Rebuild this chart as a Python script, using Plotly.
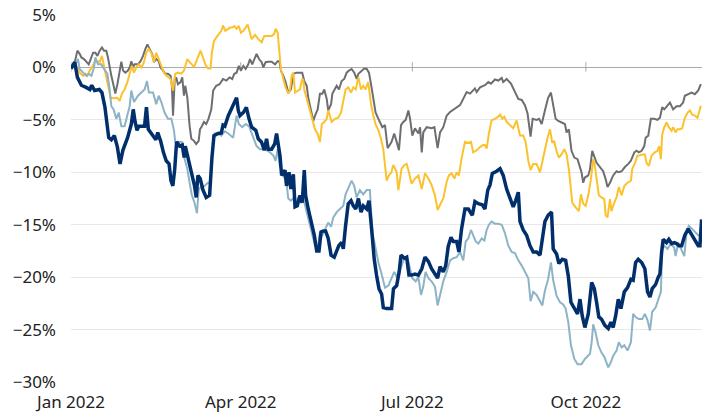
import pandas as pd
import plotly.graph_objects as go

# day offsets from 1 Jan 2022 and cumulative return (%)
navy_day = [0, 2, 3.4, 5.5, 8, 10, 11, 12.5, 15, 16.4, 18, 19, 20, 21.4, 23, 24.6, 26, 27.5, 30, 32,
            33, 34, 35, 36, 39, 40, 41, 43, 45, 46, 47.5, 49, 50.5, 52, 53, 54, 55, 56, 57.6, 59,
            60, 60.6, 62.4, 64, 65.5, 66.4, 67.3, 68.5, 70, 71.7, 73.5, 74.7, 75.8, 78, 79.7, 80.6, 81.6, 83.4, 85, 87,
            87.8, 88.7, 89.6, 91.4, 93, 94.4, 95.8, 98, 99.3, 101, 102.5, 103.7, 104.6, 106.4, 108, 109, 110, 110.8, 111.7, 113.5,
            114.3, 115.6, 116.6, 117.9, 118.8, 120, 121.4, 122.6, 123.7, 124.4, 125.8, 127.6, 129, 130.3, 131.5, 132.6, 133.8, 135, 136.4, 137.9,
            139.6, 140.9, 142, 143.5, 144.4, 145.6, 147, 148.5, 149.7, 151, 152.4, 153.8, 155, 156.8, 158, 159.4, 160.8, 162, 163.3, 164.7,
            165.6, 167.4, 170, 171, 172.7, 174, 175, 176.8, 178, 179.2, 180.6, 182.4, 184.2, 186, 187.7, 189.5, 191.2, 193, 194.4, 195.7,
            197.4, 198.7, 200, 201.5, 202.7, 204.5, 205.7, 207.1, 208.9, 210.7, 212.8, 214.2, 216, 218.1, 219.5, 221, 222.2, 223.4, 225.7, 227.5,
            229.2, 231, 232.8, 234.5, 235.8, 237.2, 238.1, 239.8, 241.6, 243.4, 245.1, 246.9, 248.7, 249.6, 251.3, 253, 254.8, 255.7, 257.5, 258.7,
            260.5, 262.3, 263.7, 265.1, 266.9, 268.6, 269.9, 271.1, 272.5, 274.3, 276.1, 277.5, 278.7, 279.9, 281.3, 283.1, 284.9, 286.3, 287.5, 288.8,
            290.2, 291.6, 293.4, 295.1, 296.9, 298.1, 299.4, 300.8, 302.6, 304.3, 305.7, 307, 308.2, 310, 311.4, 312.3, 313.2, 314, 315.8, 317,
            318.5, 319.9, 321.1, 322.4, 323.8, 325.5, 327.3, 329.1, 330.8, 332.6, 333.5, 334.4]
navy_pct = [-0.1, 0.5, -0.95, -1.7, -1.9, -2.1, -1.7, -2.2, -2.1, -2.4, -3.8, -5.1, -6.7, -6.9, -6.5, -7.6, -9.2, -7.9, -6.7, -5.4,
            -4.0, -5.2, -6.0, -5.6, -5.6, -3.8, -5.9, -6.4, -6.9, -6.2, -7.0, -8.1, -8.9, -9.2, -10.8, -11.3, -9.7, -7.1, -7.5, -7.4,
            -8.6, -7.5, -8.9, -10.2, -11.3, -12.4, -10.3, -10.6, -11.7, -12.4, -12.2, -8.7, -6.5, -6.3, -6.25, -5.5, -5.6, -4.6, -4.0, -3.3,
            -2.9, -4.1, -4.6, -4.3, -3.8, -4.9, -5.7, -6.0, -6.8, -7.1, -7.9, -6.8, -7.8, -7.8, -7.3, -6.3, -7.3, -8.4, -10.3, -9.8,
            -11.3, -10.0, -11.6, -10.2, -13.3, -13.2, -12.2, -12.9, -9.8, -12.2, -13.5, -14.8, -16.0, -17.5, -17.5, -15.7, -15.6, -15.6, -16.3, -17.9,
            -18.1, -17.5, -17.0, -16.7, -17.3, -15.1, -13.0, -12.7, -13.2, -13.5, -12.5, -13.8, -13.2, -13.5, -12.7, -15.4, -18.3, -19.8, -21.1, -21.6,
            -22.9, -23.0, -23.0, -21.1, -20.8, -19.5, -17.9, -18.2, -18.1, -19.8, -19.8, -19.7, -19.8, -19.2, -18.1, -18.5, -19.2, -19.7, -20.1, -19.0,
            -19.5, -18.9, -17.1, -16.2, -16.6, -16.6, -17.6, -15.4, -13.5, -13.5, -14.1, -12.8, -13.0, -13.1, -13.5, -11.7, -11.2, -10.1, -9.9, -9.65,
            -10.3, -11.6, -12.5, -13.3, -12.7, -11.9, -14.7, -15.5, -16.0, -17.0, -17.6, -17.6, -17.9, -16.6, -14.7, -14.1, -13.8, -17.3, -17.8, -18.7,
            -18.3, -18.4, -19.9, -22.4, -23.0, -23.5, -22.1, -23.7, -24.8, -23.5, -20.5, -21.1, -22.4, -23.8, -24.0, -24.6, -24.9, -24.3, -24.8, -23.7,
            -22.1, -23.0, -21.4, -21.0, -20.2, -20.3, -18.6, -18.3, -18.6, -19.2, -21.4, -21.9, -21.1, -20.7, -20.0, -19.7, -17.6, -16.4, -16.7, -16.4,
            -16.8, -16.7, -16.8, -17.0, -17.0, -16.0, -15.4, -15.9, -16.5, -17.0, -17.0, -14.5]

light_day = [0, 2, 3.7, 4.6, 6.4, 8.1, 9.4, 10.8, 12.2, 12.9, 14.3, 16, 17.5, 19.3, 20.5, 21.4, 22.6, 24, 25.3, 26.7,
             28.4, 29.9, 31.1, 32, 33.4, 35.5, 37.3, 39, 40.3, 41.3, 43.5, 45.2, 46.5, 47.9, 49.6, 51.4, 53.2, 54.6, 55.3, 57,
             58.8, 60.2, 61.7, 62.9, 64.1, 65.5, 66.8, 67.7, 69.1, 70.8, 72.6, 74, 74.7, 76.2, 77.9, 79.7, 81.5, 83.4, 86, 87.8,
             89, 90.8, 92.6, 94.4, 96.7, 98.4, 100.2, 102, 103.7, 105.5, 107.3, 108.5, 109.6, 110.8, 112.6, 114.3, 115.2, 116.6, 117.9, 119.1,
             120.5, 121.9, 123.2, 125, 126.7, 128, 129.4, 130.8, 132, 133.3, 134.7, 136.4, 137.9, 139.1, 140.9, 142.6, 144.4, 145.6, 147, 148.8,
             150.2, 151.5, 153.2, 155, 156.8, 158.5, 159.8, 161.2, 163, 164.7, 166.5, 168.3, 170, 171.4, 173.2, 175, 176.8, 178.5, 179.8, 181,
             182.8, 184.2, 185.6, 186.8, 188, 189.5, 191.2, 193, 194.4, 195.7, 197.4, 199.2, 201, 202.7, 204.5, 206.3, 208, 209.3, 210.7, 212.1,
             213.3, 214.6, 216, 217.8, 219.2, 220.4, 221.6, 223, 224.8, 226.6, 228.4, 230.1, 231.9, 233.7, 235.4, 237.2, 239, 240.7, 242.5, 243.7,
             245.1, 246.9, 248.7, 249.9, 251.3, 253, 254.5, 255.7, 257.5, 259.3, 261, 262.3, 263.7, 265.1, 266.9, 268.6, 270.7, 272.5, 275.2, 276.1,
             276.9, 278.2, 279.6, 281.3, 282.8, 284, 284.9, 286.3, 287.5, 289.3, 290.5, 292, 293.4, 295.1, 296.9, 298.1, 299.4, 301.1, 302.9, 304.3,
             305.7, 307, 308.2, 310, 311.4, 312.8, 313.5, 314.6, 316.3, 318.1, 319.9, 320.6, 322, 323.8, 325.2, 326.4, 327.6, 329.4, 331.2, 332.6,
             334]
light_pct = [-0.15, 0.2, 0.8, -0.15, -0.5, -0.8, -0.6, -0.8, 0.0, 0.95, 0.3, 0.3, -0.15, -0.6, -2.1, -3.7, -4.0, -4.9, -4.3, -5.6,
             -5.6, -4.6, -3.7, -2.2, -3.3, -2.7, -2.4, -2.1, -1.3, -2.4, -2.4, -3.5, -2.7, -3.3, -4.3, -4.9, -4.9, -6.0, -7.1, -7.1,
             -7.1, -8.7, -9.7, -11.0, -12.2, -12.9, -13.9, -11.7, -11.3, -11.3, -11.0, -11.0, -8.4, -6.3, -6.3, -6.5, -6.1, -6.3, -6.7, -4.6,
             -5.4, -5.7, -5.4, -5.6, -6.7, -7.5, -7.8, -7.8, -7.9, -8.1, -8.4, -8.9, -7.8, -9.4, -10.3, -11.0, -12.5, -12.7, -12.5, -13.0,
             -12.4, -12.9, -12.5, -13.8, -15.1, -16.0, -17.0, -17.3, -15.7, -16.0, -15.4, -14.8, -15.2, -14.3, -13.8, -13.5, -13.2, -12.1, -11.6, -10.8,
             -11.3, -12.4, -11.7, -12.1, -11.7, -11.7, -15.7, -17.0, -18.6, -19.7, -21.0, -20.8, -20.0, -19.5, -20.1, -19.2, -18.1, -18.2, -19.2, -20.1,
             -20.4, -20.0, -21.7, -20.9, -19.5, -20.1, -20.4, -20.9, -22.7, -21.7, -20.4, -19.5, -18.4, -18.2, -18.1, -17.6, -18.4, -16.6, -16.3, -15.5,
             -16.0, -16.6, -16.8, -16.3, -16.5, -15.5, -15.0, -14.7, -14.9, -14.9, -15.0, -15.8, -17.0, -17.6, -17.7, -18.4, -18.9, -19.5, -20.1, -22.3,
             -21.4, -21.7, -22.3, -22.7, -21.3, -20.2, -18.6, -20.3, -21.8, -22.4, -22.6, -23.0, -24.3, -26.5, -27.8, -28.3, -28.3, -27.8, -27.3, -26.2,
             -24.5, -25.3, -26.5, -27.2, -27.6, -28.3, -28.6, -28.1, -27.5, -27.0, -26.2, -26.7, -26.5, -27.0, -26.2, -23.5, -23.8, -24.0, -24.0, -23.5,
             -24.1, -25.1, -23.3, -22.9, -22.1, -21.4, -17.3, -17.0, -17.3, -16.8, -17.2, -18.0, -16.7, -17.5, -18.0, -15.7, -15.1, -15.4, -15.7, -16.0,
             -15.9]

gray_day = [0, 2, 3.4, 4.6, 5.5, 6.9, 8.1, 9.4, 10.8, 11.7, 12.9, 14, 15.2, 16.4, 17.5, 18.7, 19.6, 20.5, 21.4, 22.6,
            23.5, 24.6, 25.8, 26.7, 27.6, 28.8, 30.2, 31.1, 32, 32.9, 33.7, 35.5, 36.9, 38.2, 39.4, 40.5, 41.7, 43, 44, 45.2,
            46.5, 47.5, 48.8, 50, 51.4, 52.8, 53.5, 54.1, 55, 55.8, 56.7, 58.1, 59, 59.9, 60.6, 61.7, 62.9, 63.8, 65.2, 66.4,
            67.7, 68.4, 69.4, 70.5, 71.7, 72.9, 74.4, 75.4, 77, 78.8, 80.6, 82.4, 84.1, 85.5, 86.6, 87.8, 89, 90.1, 91.4, 92.6,
            94, 94.9, 96.1, 97.6, 98.4, 99.7, 101.1, 102, 103.2, 104.6, 106.4, 108.2, 109.6, 110.5, 111.3, 112.6, 113.8, 115.2, 116.6, 117.9,
            119.6, 121.4, 122.6, 123.7, 125, 125.8, 127.3, 128.5, 129.4, 130.8, 132, 133.3, 134.3, 135.6, 136.4, 137.9, 138.6, 139.6, 140.9, 142.1,
            143.5, 144.9, 146.2, 147.4, 148.8, 150.2, 151.5, 152.4, 154.1, 155.5, 156.8, 158, 159.1, 160.3, 161.5, 163, 164.4, 165.1, 166.5, 167.9,
            170, 171.4, 172.7, 173.9, 175, 176.2, 177.5, 178.9, 179.8, 181, 182.4, 184.2, 185.1, 186, 186.8, 188.6, 191.2, 192.7, 194.4, 195.7,
            197.4, 199.2, 201, 203.6, 206.3, 208, 209.8, 211.6, 214.2, 215.1, 216.9, 219.5, 221.3, 222.7, 224.8, 226.6, 228.4, 229.2, 231, 233.3,
            235.4, 237.2, 239, 240.7, 242.1, 243.7, 244.8, 246.9, 248.2, 249.6, 251.3, 253, 254.5, 255.7, 257, 258.4, 260.1, 261.9, 262.8, 264,
            265.4, 266.9, 268.6, 269.9, 270.7, 271.6, 272.5, 274.3, 275.2, 276.4, 277.5, 278.7, 280.5, 282.2, 283.5, 284.5, 285.8, 287.5, 289.3, 290.5,
            292, 293.7, 295.5, 296.9, 298.7, 299.9, 301.1, 302.6, 304, 304.7, 306.1, 307.5, 309.3, 311, 312.3, 313.5, 314.6, 315.8, 317.6, 319.3,
            321.1, 322.9, 324.6, 325.5, 327.3, 329.1, 330.8, 332.6, 334]
gray_pct = [-0.1, 0.5, 1.6, 1.3, 0.95, 0.8, 0.55, 0.3, 0.95, 1.4, 1.4, 1.1, 1.6, 1.9, 1.6, 1.6, 0.95, 0, -0.8, -1.75,
            -2.5, -1.6, -0.15, 0.55, -0.3, -0.5, -0.3, 0, 0.6, 0, 0.3, 0.3, 0.6, 1.1, 1.75, 2.2, 1.75, 1.3, 0.5, 0.8,
            0.6, 0, -0.3, -0.6, -0.6, -0.8, -1.75, -4.6, -1.1, -0.95, -1.6, -1.4, -0.95, -2.7, -1.75, -2.9, -5.6, -6.8, -7.0, -7.3,
            -7.0, -5.9, -5.6, -5.2, -5.4, -4.9, -4.0, -2.2, -1.75, -1.6, -1.1, -1.25, -0.95, -1.1, -0.6, -0.5, 0.15, -0.3, 0.15, -0.15,
            0.3, 0.8, 0.3, 0.95, 1.3, 0.8, 0.5, 0, 0.5, 0.55, 0.55, 0.3, 0.6, 0.6, -0.3, -0.8, -1.4, -2.4, -2.1, -0.6,
            -0.5, -0.5, -0.5, -1.3, -1.75, -2.9, -4.0, -5.1, -4.6, -4.0, -2.5, -2.5, -2.1, -3.0, -4.1, -3.5, -2.5, -2.2, -1.75, -2.1,
            -1.3, -1.1, -0.5, -0.3, -0.15, -0.5, -1.1, -0.6, -0.3, -0.1, -0.15, -0.5, -1.6, -3.2, -4.3, -4.9, -5.4, -5.7, -5.5, -7.7,
            -7.1, -6.3, -7.1, -7.9, -5.5, -5.2, -5.0, -4.1, -4.9, -6.5, -5.8, -6.3, -5.7, -8.1, -6.2, -5.7, -5.8, -5.7, -7.7, -6.2,
            -5.7, -4.6, -4.25, -3.9, -3.6, -3.0, -2.35, -2.5, -2.0, -2.35, -1.9, -1.7, -1.4, -1.55, -1.15, -1.25, -1.0, -1.4, -1.1, -1.55,
            -2.35, -3.0, -3.1, -3.6, -4.4, -6.6, -4.9, -5.0, -4.9, -5.4, -4.1, -2.9, -2.4, -3.7, -4.9, -5.1, -5.25, -5.4, -6.2, -5.9,
            -7.95, -8.6, -8.75, -9.4, -10.0, -11.0, -10.5, -10.3, -9.7, -7.95, -8.6, -9.1, -9.5, -9.9, -10.65, -11.4, -11.0, -10.3, -9.9, -10.0,
            -9.9, -9.5, -9.2, -8.9, -8.1, -7.95, -8.1, -7.95, -7.5, -6.7, -6.5, -4.9, -4.9, -5.0, -4.8, -3.8, -4.0, -3.7, -3.35, -4.0,
            -3.7, -3.7, -3.35, -2.7, -2.55, -2.4, -2.55, -2.2, -1.6]

gold_day = [0, 2, 3.4, 4.6, 6.4, 7.6, 8.7, 9.9, 11.1, 12.5, 13.9, 15.2, 16.4, 17.5, 18.7, 20, 21, 22.8, 24.6, 25.8,
            27, 28.4, 29.9, 31.1, 32.3, 33.4, 34.6, 35.9, 37.3, 38.7, 39.9, 41.2, 42.6, 44, 45.2, 46.5, 47.9, 49.3, 50.7, 51.8,
            52.8, 54.1, 55.3, 56.7, 58.5, 59.9, 60.6, 61.7, 62.9, 64.1, 65.2, 66.4, 67.7, 68.7, 70, 71.2, 72.6, 74, 74.7, 75.8,
            77, 78.3, 79.7, 80.6, 81.8, 83.2, 84.3, 85.5, 86.6, 87.8, 89, 90.1, 91.4, 92.6, 93.7, 94.9, 95.8, 97.6, 99.3, 101.1,
            102.5, 104.6, 106.4, 107.8, 108.5, 109.6, 110.5, 111.3, 112.6, 113.8, 115.2, 116.1, 117, 117.9, 118.8, 120.2, 121.4, 122.6, 123.2, 123.7,
            125, 126.7, 128, 129.4, 130.8, 132, 133, 134.3, 135.6, 136.4, 137.3, 138.2, 140, 141.7, 143.2, 144.4, 145.6, 147, 148.5, 149.7,
            151, 152.4, 153.8, 155, 156.2, 157.6, 159.1, 160.3, 161.5, 163, 164.4, 165.6, 166.5, 167.4, 168.6, 169.9, 170.9, 172.7, 173.6, 175.3,
            176.8, 178, 179.2, 180.6, 182.4, 184.2, 186, 187.7, 189.5, 191.2, 193, 194.4, 195.7, 197.4, 199.2, 200.4, 201.8, 203.3, 204.5, 205.7,
            207.1, 208.9, 210.7, 212.1, 213.3, 215.1, 216.9, 218.6, 219.5, 220.4, 221.6, 223, 224.8, 226.6, 227.5, 228.7, 229.8, 231, 232.8, 234.5,
            236.3, 238.1, 239.8, 241.1, 242.5, 243.7, 245.1, 246.9, 248.7, 249.9, 251.3, 252.7, 254, 255.2, 256.2, 257.5, 258.7, 260.1, 261.6, 262.8,
            264, 265.1, 265.8, 267.6, 269.3, 270.4, 271.6, 272.9, 274.3, 275.7, 276.9, 277.8, 279.2, 279.9, 281.3, 282.8, 283.5, 284.5, 285.8, 286.6,
            288.1, 289.3, 290.5, 292, 293.4, 295.1, 296.9, 297.6, 299.1, 300.4, 301.7, 302.6, 304.3, 305.2, 306.4, 307.9, 309.6, 311, 311.9, 312.8,
            313.5, 314.6, 315.8, 317, 318.5, 319.3, 320.6, 321.6, 322.9, 324.1, 325.5, 327, 328.2, 329.4, 330.8, 332.2, 333, 334]
gold_pct = [-0.1, 0.15, 0, -0.5, -0.8, -0.6, -0.8, -0.3, 0, 0.5, 0.6, 0.5, 1.1, 0.15, -0.8, -1.9, -2.9, -2.95, -2.9, -3.2,
            -2.5, -2.1, -1.4, -0.6, 0.15, -0.5, 0, 0.3, 0, 0.5, 1.4, 1.75, 1.4, 0.5, 1.4, 0.8, 0.15, -0.5, -0.8, -0.95,
            -1.1, -2.2, -0.6, -0.5, -0.6, -0.3, 0.15, 0.8, 0.5, 0.3, 0, 0.5, 1.1, 1.6, 0.95, 0.3, -0.1, -0.1, 1.4, 2.5,
            2.85, 3.2, 3.5, 4.0, 3.5, 3.65, 3.8, 3.8, 3.95, 3.7, 3.95, 3.3, 3.5, 3.8, 4.1, 3.3, 2.7, 3.1, 2.7, 2.4,
            3.0, 3.0, 3.0, 3.2, 3.7, 3.3, 1.4, -0.15, -1.1, -1.9, -2.5, -2.2, -0.8, -0.5, -2.4, -2.2, -2.1, -1.1, -1.2, -2.1,
            -3.0, -4.3, -5.1, -5.9, -6.35, -7.1, -5.4, -5.2, -4.9, -4.1, -4.6, -5.2, -4.9, -4.8, -4.3, -3.0, -2.1, -1.9, -2.4, -1.9,
            -2.1, -0.95, -2.1, -1.75, -2.1, -1.4, -3.5, -4.6, -5.4, -6.0, -6.8, -7.8, -9.05, -10.8, -10.3, -10.0, -9.3, -10.0, -11.7, -9.65,
            -9.3, -9.2, -10.0, -11.1, -10.6, -10.3, -11.6, -10.1, -10.6, -11.2, -12.2, -13.6, -13.1, -12.5, -10.9, -10.3, -10.1, -10.6, -10.0, -10.3,
            -8.7, -7.1, -7.2, -7.1, -8.1, -7.9, -7.6, -7.4, -7.4, -7.75, -6.3, -5.05, -4.9, -4.7, -4.5, -4.9, -4.7, -5.2, -5.5, -5.8,
            -5.05, -6.5, -6.5, -7.1, -8.9, -9.8, -9.2, -9.2, -10.0, -9.0, -7.8, -6.7, -5.9, -7.2, -7.0, -8.0, -8.6, -8.3, -7.8, -8.3,
            -9.7, -11.3, -12.9, -13.35, -13.7, -12.1, -13.0, -13.2, -12.2, -10.65, -8.75, -9.4, -11.0, -12.2, -12.4, -12.55, -14.1, -14.3, -12.55, -13.7,
            -12.9, -12.4, -11.4, -12.2, -11.3, -11.0, -10.8, -9.7, -9.1, -8.4, -8.4, -8.3, -8.3, -9.1, -9.4, -8.4, -8.1, -7.95, -7.5, -8.75,
            -6.4, -5.7, -5.25, -5.7, -6.05, -5.7, -6.2, -5.9, -5.9, -5.8, -4.8, -4.3, -4.1, -4.5, -4.6, -4.8, -4.3, -3.65]

tick_dates = ["2022-01-01", "2022-04-01", "2022-07-01", "2022-10-01"]
tick_labels = ["Jan 2022", "Apr 2022", "Jul 2022", "Oct 2022"]

start = pd.Timestamp("2022-01-01")


def to_dates(days):
    return start + pd.to_timedelta(days, unit="D")


fig = go.Figure()

for days, pct, color, width in [
    (gray_day, gray_pct, "#6d6e71", 2),
    (gold_day, gold_pct, "#fcc22d", 2),
    (light_day, light_pct, "#8db3c7", 2),
    (navy_day, navy_pct, "#002f6c", 3.5),
]:
    fig.add_trace(
        go.Scatter(
            x=to_dates(days),
            y=pct,
            mode="lines",
            line={"color": color, "width": width},
            showlegend=False,
            hoverinfo="skip",
        )
    )

# small tick marks crossing the 0% line at each quarter
for d in tick_dates:
    fig.add_shape(
        type="line",
        xref="x",
        yref="y",
        x0=d,
        x1=d,
        y0=-0.4,
        y1=0.5,
        line={"color": "#aaaaaa", "width": 1},
        layer="below",
    )

fig.update_layout(
    width=718,
    height=417,
    margin={"l": 71, "r": 16, "t": 15, "b": 35, "autoexpand": False},
    plot_bgcolor="white",
    paper_bgcolor="white",
    font={"family": "Noto Sans", "size": 17, "color": "#222222"},
    xaxis={
        "range": [start, start + pd.Timedelta(days=334.6)],
        "tickvals": tick_dates,
        "ticktext": tick_labels,
        "showgrid": False,
        "zeroline": False,
        "showline": False,
        "ticks": "",
        "ticklabelstandoff": 8,
        "automargin": False,
    },
    yaxis={
        "range": [-30, 5],
        "dtick": 5,
        "ticksuffix": "%",
        "gridcolor": "#e8e8e8",
        "gridwidth": 1,
        "zeroline": True,
        "zerolinecolor": "#aaaaaa",
        "zerolinewidth": 1,
        "ticklabelstandoff": 14,
        "automargin": False,
    },
)

# the page body has a default 8px margin; drop it so the figure fills the window
fig.write_html(
    "out.html",
    config={"displayModeBar": False},
    post_script="document.body.style.margin = '0px';",
)
